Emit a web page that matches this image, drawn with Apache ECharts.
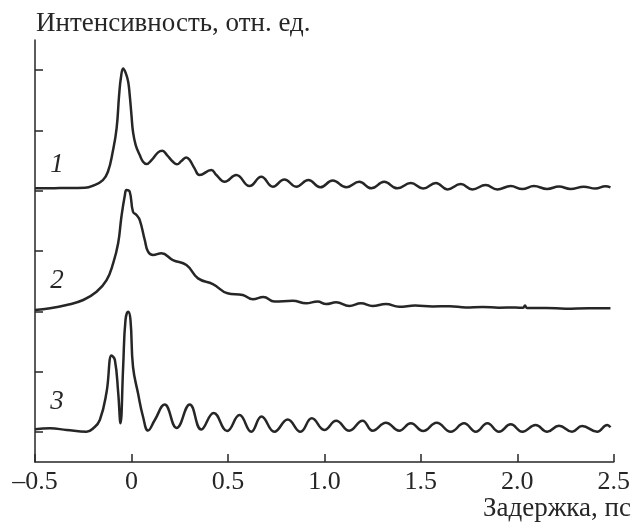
<!DOCTYPE html>
<html>
<head>
<meta charset="utf-8">
<script src="https://cdn.jsdelivr.net/npm/echarts@6/dist/echarts.min.js"></script>
<style>html,body{margin:0;padding:0;background:#fff}#c{width:633px;height:522px}</style>
</head>
<body>
<div id="c"></div>
<script>
// x: delay, ps ; y: intensity, arbitrary units (curves offset vertically)
var curve1 = [[-0.5,45.39],[-0.371,45.44],[-0.241,45.49],[-0.200,45.82],[-0.148,46.77],[-0.122,48.14],[-0.097,51.46],[-0.077,55.34],[-0.064,60.86],[-0.054,63.90],[-0.043,65.29],[-0.029,64.46],[-0.017,63.07],[-0.009,60.86],[0.000,57.55],[0.008,54.78],[0.022,52.57],[0.043,50.91],[0.060,49.80],[0.078,49.42],[0.104,50.08],[0.138,51.36],[0.160,51.63],[0.184,50.91],[0.215,49.80],[0.236,49.37],[0.259,49.92],[0.285,50.53],[0.302,50.08],[0.327,48.71],[0.353,47.60],[0.414,48.42],[0.440,47.60],[0.483,46.48],[0.543,47.60],[0.612,45.77],[0.673,47.31],[0.733,45.66],[0.793,46.88],[0.854,45.66],[0.917,46.77],[0.979,45.56],[1.043,46.68],[1.114,45.56],[1.181,46.47],[1.243,45.39],[1.310,46.47],[1.378,45.39],[1.448,46.27],[1.512,45.36],[1.578,46.29],[1.638,45.22],[1.707,46.10],[1.767,45.22],[1.836,45.94],[1.896,45.22],[1.966,45.77],[2.026,45.29],[2.086,45.77],[2.155,45.29],[2.216,45.69],[2.276,45.29],[2.345,45.66],[2.405,45.36],[2.457,45.74],[2.483,45.56]];
var curve2 = [[-0.5,25.21],[-0.422,25.49],[-0.336,26.04],[-0.250,26.87],[-0.181,28.24],[-0.129,30.18],[-0.095,32.95],[-0.069,36.27],[-0.052,40.68],[-0.034,44.28],[-0.026,45.11],[-0.009,44.83],[0.008,41.51],[0.026,40.96],[0.043,40.13],[0.069,36.82],[0.086,34.88],[0.112,34.33],[0.155,34.61],[0.215,33.50],[0.285,32.67],[0.345,30.46],[0.422,29.52],[0.498,27.98],[0.577,27.69],[0.629,26.98],[0.684,27.36],[0.741,26.62],[0.836,26.75],[0.905,26.32],[0.965,26.62],[1.009,26.20],[1.061,26.48],[1.129,25.87],[1.190,26.32],[1.250,25.87],[1.319,26.20],[1.388,25.75],[1.470,25.95],[1.560,25.80],[1.650,25.85],[1.733,25.62],[1.820,25.70],[1.905,25.60],[1.990,25.62],[2.030,25.58],[2.040,25.98],[2.050,25.54],[2.150,25.55],[2.250,25.42],[2.370,25.50],[2.483,25.49]];
var curve3 = [[-0.5,5.42],[-0.422,5.59],[-0.336,5.31],[-0.233,5.02],[-0.198,5.59],[-0.164,6.97],[-0.129,11.61],[-0.103,17.66],[-0.086,16.92],[-0.069,11.61],[-0.057,6.42],[-0.043,15.80],[-0.031,23.55],[-0.017,24.93],[-0.005,23.55],[0.008,15.80],[0.034,11.39],[0.060,7.51],[0.086,5.22],[0.121,6.97],[0.172,9.54],[0.234,5.64],[0.302,9.54],[0.362,5.39],[0.426,8.13],[0.496,5.14],[0.560,7.79],[0.621,5.02],[0.674,7.55],[0.741,5.02],[0.810,7.05],[0.876,5.02],[0.935,7.25],[1.000,5.31],[1.061,6.85],[1.129,5.19],[1.198,6.85],[1.250,5.19],[1.319,6.52],[1.388,5.19],[1.448,6.42],[1.512,5.14],[1.582,6.52],[1.655,5.02],[1.724,6.42],[1.785,5.02],[1.845,6.42],[1.905,5.02],[1.966,6.25],[2.026,5.02],[2.095,6.14],[2.155,5.02],[2.216,6.02],[2.284,5.02],[2.336,5.97],[2.414,5.02],[2.466,6.14],[2.483,5.75]];
var curveLabels = ['1', '2', '3'];
var xTickValues = [-0.5, 0, 0.5, 1.0, 1.5, 2.0, 2.5];
var xTickLabels = ['\u20130.5', '0', '0.5', '1.0', '1.5', '2.0', '2.5'];
var yTickValues = [5, 15, 25, 35, 45, 55, 65];
var yTitle = 'Интенсивность, отн. ед.';
var xTitle = 'Задержка, пс';

var FONT = '"Liberation Serif", "Times New Roman", serif';
var INK = '#262626';
var chart = echarts.init(document.getElementById('c'), null, {renderer: 'canvas'});

function lineSeries(d) {
  return {
    type: 'line', data: d, showSymbol: false, smooth: 0.45,
    lineStyle: {color: INK, width: 2.5}, animation: false, z: 3
  };
}

chart.setOption({
  animation: false,
  backgroundColor: '#fff',
  grid: {left: 35, right: 18, top: 40, bottom: 60, containLabel: false},
  xAxis: {
    type: 'value', min: -0.5, max: 2.5, interval: 0.5,
    axisLine: {show: true, onZero: false, lineStyle: {color: INK, width: 1.5}},
    axisTick: {show: true, inside: true, length: 8, lineStyle: {color: INK, width: 1.5}},
    splitLine: {show: false},
    axisLabel: {
      color: INK, fontFamily: FONT, fontSize: 26, margin: 7,
      formatter: function (v) {
        for (var i = 0; i < xTickValues.length; i++) {
          if (Math.abs(xTickValues[i] - v) < 1e-9) return xTickLabels[i];
        }
        return '';
      }
    }
  },
  yAxis: {
    type: 'value', min: 0, max: 70,
    axisLine: {show: true, onZero: false, lineStyle: {color: INK, width: 1.5}},
    axisTick: {show: true, inside: true, length: 8, customValues: yTickValues, lineStyle: {color: INK, width: 1.5}},
    axisLabel: {show: false},
    splitLine: {show: false}
  },
  series: [lineSeries(curve1), lineSeries(curve2), lineSeries(curve3)],
  graphic: [
    {type: 'text', x: 36, y: 24, style: {text: yTitle, font: '27px ' + FONT, fill: INK, verticalAlign: 'middle'}},
    {type: 'text', x: 631, y: 509, style: {text: xTitle, font: '27px ' + FONT, fill: INK, align: 'right', verticalAlign: 'middle'}},
    {type: 'text', x: 57, y: 165, style: {text: curveLabels[0], font: 'italic 27px ' + FONT, fill: INK, align: 'center', verticalAlign: 'middle'}},
    {type: 'text', x: 57, y: 281, style: {text: curveLabels[1], font: 'italic 27px ' + FONT, fill: INK, align: 'center', verticalAlign: 'middle'}},
    {type: 'text', x: 57, y: 402, style: {text: curveLabels[2], font: 'italic 27px ' + FONT, fill: INK, align: 'center', verticalAlign: 'middle'}}
  ]
});
</script>
</body>
</html>
